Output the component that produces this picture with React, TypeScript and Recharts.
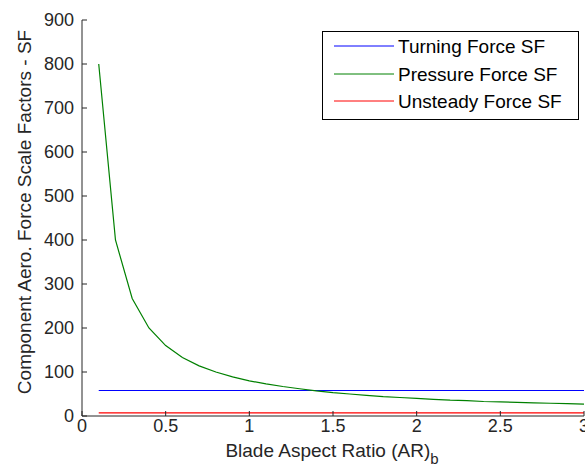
import { LineChart, Line, XAxis, YAxis, Legend } from "recharts";

const aspectRatio = [
  0.1, 0.2, 0.3, 0.4, 0.5, 0.6, 0.7, 0.8, 0.9, 1.0, 1.1, 1.2, 1.3, 1.4, 1.5,
  1.6, 1.7, 1.8, 1.9, 2.0, 2.1, 2.2, 2.3, 2.4, 2.5, 2.6, 2.7, 2.8, 2.9, 3.0,
];
const turningForceSF = [
  58, 58, 58, 58, 58, 58, 58, 58, 58, 58, 58, 58, 58, 58, 58,
  58, 58, 58, 58, 58, 58, 58, 58, 58, 58, 58, 58, 58, 58, 58,
];
const pressureForceSF = [
  800, 400, 267, 200, 160, 133, 114, 100, 89, 80, 73, 67, 62, 57, 53,
  50, 47, 44, 42, 40, 38, 36, 35, 33, 32, 31, 30, 29, 28, 27,
];
const unsteadyForceSF = [
  7, 7, 7, 7, 7, 7, 7, 7, 7, 7, 7, 7, 7, 7, 7,
  7, 7, 7, 7, 7, 7, 7, 7, 7, 7, 7, 7, 7, 7, 7,
];
const xTicks = [0, 0.5, 1, 1.5, 2, 2.5, 3];
const yTicks = [0, 100, 200, 300, 400, 500, 600, 700, 800, 900];

const seriesInfo = [
  { key: "turning", name: "Turning Force SF", color: "#0000ff" },
  { key: "pressure", name: "Pressure Force SF", color: "#008000" },
  { key: "unsteady", name: "Unsteady Force SF", color: "#ff0000" },
];

const data = aspectRatio.map((ar, i) => ({
  ar,
  turning: turningForceSF[i],
  pressure: pressureForceSF[i],
  unsteady: unsteadyForceSF[i],
}));

const FONT = "'Liberation Sans', Arial, Helvetica, sans-serif";
const AXIS = "#262626";
const TICK = 5;

function BottomTick({ x, y, payload }: any) {
  return (
    <g>
      <line x1={x} x2={x} y1={y} y2={y - TICK} stroke={AXIS} />
      <text x={x} y={y + 16} textAnchor="middle" fontSize={18} fontFamily={FONT} fill={AXIS}>
        {String(payload.value)}
      </text>
    </g>
  );
}

function TopTick({ x, y }: any) {
  return <line x1={x} x2={x} y1={y} y2={y + TICK} stroke={AXIS} />;
}

function LeftTick({ x, y, payload }: any) {
  return (
    <g>
      <line x1={x} x2={x + TICK} y1={y} y2={y} stroke={AXIS} />
      <text x={x - 8} y={y} textAnchor="end" dominantBaseline="central" fontSize={18} fontFamily={FONT} fill={AXIS}>
        {String(payload.value)}
      </text>
    </g>
  );
}

function RightTick({ x, y }: any) {
  return <line x1={x} x2={x - TICK} y1={y} y2={y} stroke={AXIS} />;
}

function LegendBox() {
  const rows = [15, 43, 70];
  return (
    <svg width={257} height={90} style={{ display: "block" }}>
      <rect x={0.5} y={0.5} width={256} height={88} fill="#fff" stroke="#000" />
      {seriesInfo.map((s, i) => (
        <g key={s.key}>
          <line x1={12} x2={72} y1={rows[i]} y2={rows[i]} stroke={s.color} />
          <text x={76} y={rows[i]} dominantBaseline="central" fontSize={19} fontFamily={FONT} fill="#000">
            {s.name}
          </text>
        </g>
      ))}
    </svg>
  );
}

export default function App() {
  return (
    <div style={{ position: "absolute", left: 0, top: 0, background: "#fff" }}>
      <LineChart width={585} height={473} data={data} margin={{ top: 20, right: 1, bottom: 0, left: 0 }}>
        <XAxis
          dataKey="ar"
          type="number"
          domain={[0, 3]}
          ticks={xTicks}
          height={57}
          stroke={AXIS}
          tickSize={0}
          tickMargin={0}
          tick={<BottomTick />}
          interval={0}
          label={{
            content: () => (
              <text x={332} y={457} textAnchor="middle" fontSize={19} fontFamily={FONT} fill={AXIS}>
                Blade Aspect Ratio (AR)
                <tspan dy={7} fontSize={15}>b</tspan>
              </text>
            ),
          }}
        />
        <XAxis
          xAxisId="top"
          orientation="top"
          dataKey="ar"
          type="number"
          domain={[0, 3]}
          ticks={xTicks}
          height={0}
          stroke={AXIS}
          tickSize={0}
          tickMargin={0}
          tick={<TopTick />}
          interval={0}
        />
        <YAxis
          type="number"
          domain={[0, 900]}
          ticks={yTicks}
          width={82}
          stroke={AXIS}
          tickSize={0}
          tickMargin={0}
          tick={<LeftTick />}
          interval={0}
          label={{
            content: () => (
              <text
                transform="translate(30.5, 212) rotate(-90)"
                x={0}
                y={0}
                textAnchor="middle"
                fontSize={19}
                fontFamily={FONT}
                fill={AXIS}
              >
                Component Aero. Force Scale Factors - SF
              </text>
            ),
          }}
        />
        <YAxis
          yAxisId="right"
          orientation="right"
          type="number"
          domain={[0, 900]}
          ticks={yTicks}
          width={0}
          stroke={AXIS}
          tickSize={0}
          tickMargin={0}
          tick={<RightTick />}
          interval={0}
        />
        {seriesInfo.map((s) => (
          <Line
            key={s.key}
            dataKey={s.key}
            name={s.name}
            stroke={s.color}
            strokeWidth={1.2}
            dot={false}
            type="linear"
            isAnimationActive={false}
          />
        ))}
        <Legend
          layout="vertical"
          align="center"
          verticalAlign="middle"
          content={() => <LegendBox />}
          wrapperStyle={{ left: 322, top: 31, width: 257, height: 90 }}
        />
      </LineChart>
    </div>
  );
}
